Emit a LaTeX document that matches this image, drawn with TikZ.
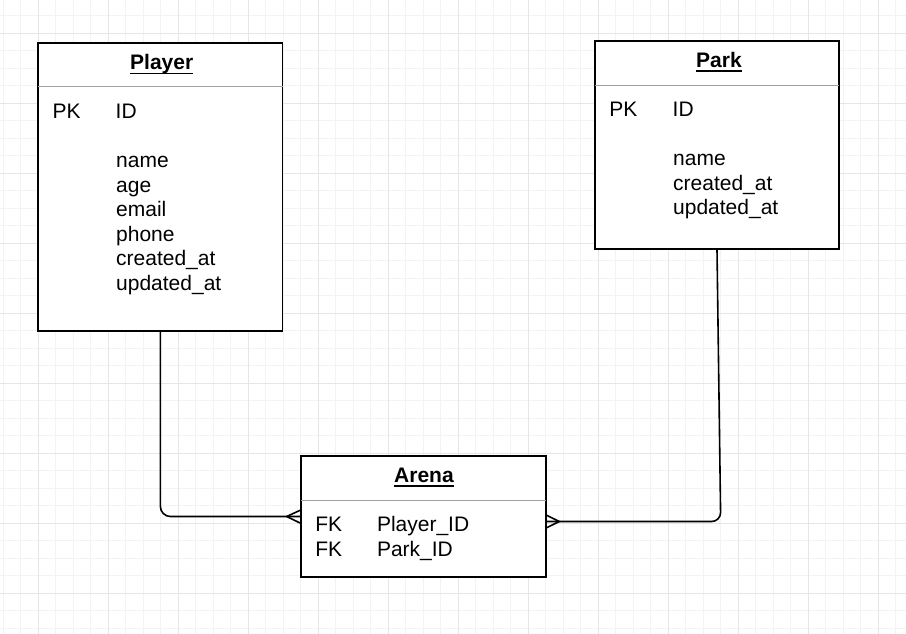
\documentclass[tikz,border=0pt]{standalone}
\usepackage{fontspec}
\setmainfont{Liberation Sans}
\usepackage{tikz}
\usetikzlibrary{calc}
\definecolor{gridminor}{HTML}{F3F3F3}
\definecolor{gridmajor}{HTML}{E6E6E6}
\definecolor{sepgray}{HTML}{A0A0A0}

\begin{document}
\begin{tikzpicture}[
  x=1pt, y=-1pt,
  % table-like entity boxes
  entity/.style={rectangle,draw=black,fill=white,line width=1.8pt,outer sep=0pt,inner sep=0pt},
  sepline/.style={draw=sepgray,line width=1.5pt},
  title/.style={anchor=base,inner sep=0pt,font=\fontsize{21}{25}\selectfont\bfseries},
  attr/.style={anchor=base west,inner sep=0pt,font=\fontsize{21}{25}\selectfont},
  relation/.style={draw=black,line width=1.6pt}
]
\useasboundingbox (0,0) rectangle (906,634);

% background grid
\foreach \gx in {3.3,20.8,...,906} \draw[gridminor,line width=0.8pt] (\gx,0) -- (\gx,634);
\foreach \gy in {15.8,33.3,...,634} \draw[gridminor,line width=0.8pt] (0,\gy) -- (906,\gy);
\foreach \gx in {38.3,108.3,...,906} \draw[gridmajor,line width=0.8pt] (\gx,0) -- (\gx,634);
\foreach \gy in {33.3,103.3,...,634} \draw[gridmajor,line width=0.8pt] (0,\gy) -- (906,\gy);

% entity boxes
\node[entity,minimum width=244.2pt,minimum height=287.7pt] (player) at (160.4,186.85) {};
\node[entity,minimum width=244.6pt,minimum height=208.3pt] (park) at (717,145.15) {};
\node[entity,minimum width=245pt,minimum height=121.6pt] (arena) at (423.2,516.5) {};

% header separators
\draw[sepline] ([yshift=-43.7pt]player.north west) -- ([yshift=-43.7pt]player.north east);
\draw[sepline] ([yshift=-44.7pt]park.north west) -- ([yshift=-44.7pt]park.north east);
\draw[sepline] ([yshift=-45pt]arena.north west) -- ([yshift=-45pt]arena.north east);

% titles
\node[title] (playerT) at (161.7,70) {Player};
\node[title] (parkT) at (719,67.7) {Park};
\node[title] (arenaT) at (424,482.7) {Arena};
\draw[line width=1.7pt] ([yshift=-3.5pt]playerT.base west) -- ([yshift=-3.5pt]playerT.base east);
\draw[line width=1.7pt] ([yshift=-3.5pt]parkT.base west) -- ([yshift=-3.5pt]parkT.base east);
\draw[line width=1.7pt] ([yshift=-3.5pt]arenaT.base west) -- ([yshift=-3.5pt]arenaT.base east);

% Player attributes
\node[attr] (playerPK) at (52.5,118.3) {PK};
\node[attr] (playerID) at (115.5,118.3) {ID};
\node[attr] (playerA) at (116,167.3) {name};
\node[attr] (playerB) at (116,192.3) {age};
\node[attr] (playerC) at (116,216.7) {email};
\node[attr] (playerD) at (116,241) {phone};
\node[attr] (playerE) at (116,265.7) {created\_at};
\node[attr] (playerF) at (116,290) {updated\_at};

% Park attributes
\node[attr] (parkPK) at (609.2,116.7) {PK};
\node[attr] (parkID) at (672.5,116.7) {ID};
\node[attr] (parkA) at (673,165) {name};
\node[attr] (parkB) at (673,190) {created\_at};
\node[attr] (parkC) at (673,214.3) {updated\_at};

% Arena attributes
\node[attr] (arenaFK1) at (315.2,531.7) {FK};
\node[attr] (arenaP) at (376.8,531.7) {Player\_ID};
\node[attr] (arenaFK2) at (315.2,556.7) {FK};
\node[attr] (arenaQ) at (376.8,556.7) {Park\_ID};

% relations
\coordinate (parkturn) at (720.7,521.5);
\draw[relation,rounded corners=10pt] (player.south) |- (arena.west);
\draw[relation,rounded corners=9pt] (park.south) -- (parkturn) -- ([yshift=-5pt]arena.east);

% crow's feet (many side)
\draw[relation] ([yshift=6.5pt]arena.west) -- ([xshift=-14pt]arena.west) -- ([yshift=-6.8pt]arena.west);
\draw[relation] ([yshift=1.7pt]arena.east) -- ([xshift=13.6pt,yshift=-5pt]arena.east) -- ([yshift=-11.7pt]arena.east);

\end{tikzpicture}
\end{document}
